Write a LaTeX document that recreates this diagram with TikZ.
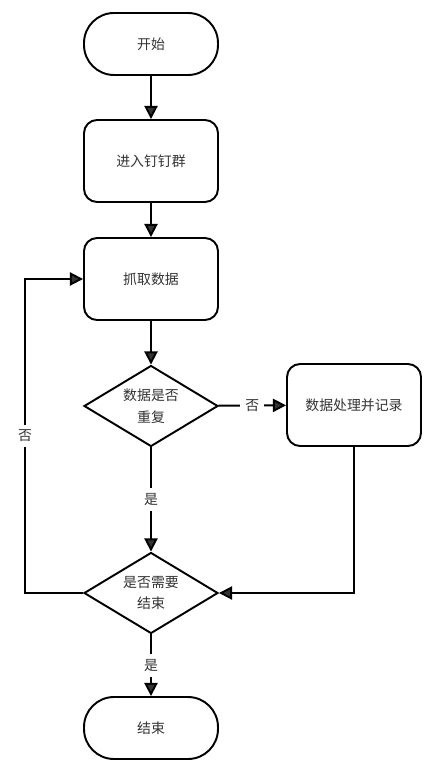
\documentclass[tikz,border=0pt]{standalone}
\usepackage{fontspec}
\newfontfamily\cjk{Noto Sans CJK SC}
\usetikzlibrary{shapes.geometric,arrows.meta}
\begin{document}
\begin{tikzpicture}[
      x=0.02cm, y=-0.02cm,
      pfeil/.style={line width=1.1pt, draw=black,
        -{Triangle[length=7.5pt,width=7.5pt]}},
      pille/.style={rectangle, rounded corners=0.6cm, draw=black,
        line width=1.1pt, fill=white, minimum width=2.68cm,
        minimum height=1.24cm, text centered},
      kasten/.style={rectangle, rounded corners=0.26cm, draw=black,
        line width=1.1pt, fill=white, minimum width=2.68cm,
        minimum height=1.64cm, text centered},
      raute/.style={diamond, shape aspect=1.65, draw=black,
        line width=1.1pt, fill=white, inner sep=0pt,
        minimum width=2.68cm, minimum height=1.62cm, align=center},
      marke/.style={fill=white, inner sep=3pt}
    ]
    \useasboundingbox (0,0) rectangle (435,770);
    \cjk\fontsize{7.9}{12.5}\selectfont\color{black!80}
    \path (151,44) node(start) [pille] {开始}
    (151,161) node(dingding) [kasten] {进入钉钉群}
    (151,279) node(holen) [kasten] {抓取数据}
    (151,406) node(doppelt) [raute] {数据是否\\重复}
    (354,405) node(verarb) [kasten] {数据处理并记录}
    (151,593) node(fertig) [raute] {是否需要\\结束}
    (151,728) node(ende) [pille] {结束};
    \coordinate (links) at (25,593);
    \draw[pfeil] (start) -- (dingding);
    \draw[pfeil] (dingding) -- (holen);
    \draw[pfeil] (holen) -- (doppelt);
    \draw[pfeil] (doppelt) -- node[marke] {否} (verarb);
    \draw[pfeil] (doppelt) -- node[marke] {是} (fertig);
    \draw[pfeil] (verarb.south) |- (fertig.east);
    \draw[pfeil] (fertig.west) -- (links) |- node[marke, pos=0.25] {否} (holen.west);
    \draw[pfeil] (fertig) -- node[marke] {是} (ende);
  \end{tikzpicture}
\end{document}
